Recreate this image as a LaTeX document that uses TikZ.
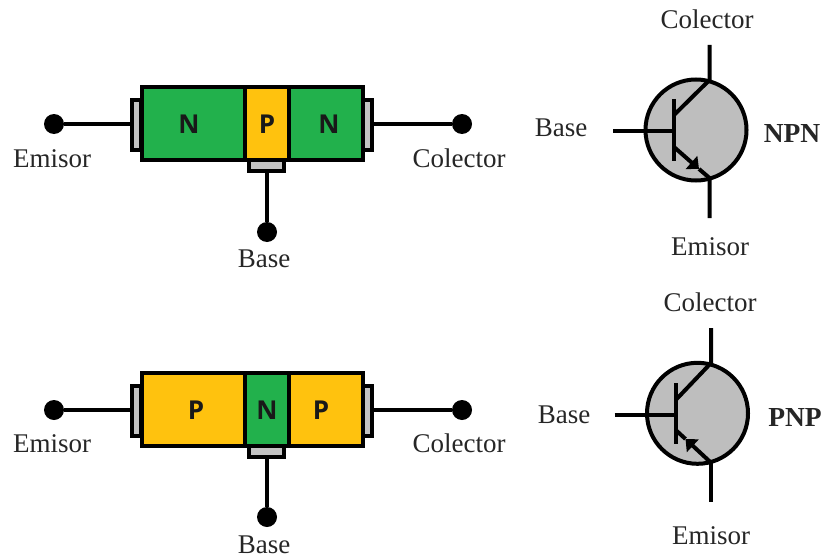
\documentclass[tikz,border=0pt]{standalone}
\usepackage{fontspec}
\setmainfont{Liberation Serif}
\newfontfamily\dopefont{Open Sans}
\usetikzlibrary{arrows.meta}
\definecolor{dopeN}{HTML}{22B14C}
\definecolor{dopeP}{HTML}{FFC20E}
\definecolor{metal}{HTML}{C3C3C3}
\definecolor{body}{HTML}{BEBEBE}
\tikzset{
  wire/.style={line width=4pt},
  region/.style={draw, line width=4pt, rectangle, inner sep=0pt, outer sep=0pt, minimum height=73pt},
  contact/.style={draw, line width=4pt, fill=metal, rectangle, inner sep=0pt, outer sep=0pt},
  terminal/.style={circle, fill=black, inner sep=0pt, minimum size=20pt},
  dope/.style={font=\dopefont\fontsize{26}{26}\selectfont\bfseries, text=black!90, inner sep=0pt},
  tag/.style={font=\fontsize{27}{27}\selectfont, text=black!85, inner sep=0pt},
  kind/.style={font=\fontsize{27.5}{27.5}\selectfont\bfseries, text=black!85, inner sep=0pt},
  envelope/.style={draw, line width=4pt, circle, fill=body, inner sep=0pt, outer sep=0pt, minimum size=101pt},
  headed/.style={wire, -{Triangle[length=10pt,width=17pt]}}
}
\begin{document}
\begin{tikzpicture}[x=1pt, y=-1pt]
  \useasboundingbox (0,0) rectangle (826,559);
  % NPN block
  \node [contact, minimum width=9pt, minimum height=50pt] (ce1) at (136.5,125) {};
  \node [contact, minimum width=9pt, minimum height=50pt] (cc1) at (367,125) {};
  \node [contact, minimum width=35pt, minimum height=13pt] (cb1) at (266.5,164.5) {};
  \node [region, fill=dopeN, minimum width=103pt] (re1) at (193,123.5) {};
  \node [region, fill=dopeN, minimum width=74pt] (rc1) at (325.5,123.5) {};
  \node [region, fill=dopeP, minimum width=44pt] (rb1) at (266.5,123.5) {};
  \node [dope] (le1) at (189,124) {N};
  \node [dope] (lb1) at (267,124) {P};
  \node [dope] (lc1) at (329,124) {N};
  \node [terminal] (te1) at (54,124) {};
  \node [terminal] (tc1) at (462,124) {};
  \node [terminal] (tb1) at (267,232) {};
  \node [tag] (ne1) at (52,159) {Emisor};
  \node [tag] (nc1) at (459,158) {Colector};
  \node [tag] (nb1) at (264,259) {Base};
  \path [wire]
  (te1) edge (ce1.west |- te1)
  (tc1) edge (cc1.east |- tc1)
  (tb1) edge (tb1 |- cb1.south);
  % PNP block
  \node [contact, minimum width=9pt, minimum height=50pt] (ce2) at (136.5,410.5) {};
  \node [contact, minimum width=9pt, minimum height=50pt] (cc2) at (367,410.5) {};
  \node [contact, minimum width=35pt, minimum height=13pt] (cb2) at (266.5,450) {};
  \node [region, fill=dopeP, minimum width=103pt] (re2) at (193,409) {};
  \node [region, fill=dopeP, minimum width=74pt] (rc2) at (325.5,409) {};
  \node [region, fill=dopeN, minimum width=44pt] (rb2) at (266.5,409) {};
  \node [dope] (le2) at (196,410) {P};
  \node [dope] (lb2) at (267,410) {N};
  \node [dope] (lc2) at (321,410) {P};
  \node [terminal] (te2) at (54,410) {};
  \node [terminal] (tc2) at (462,410) {};
  \node [terminal] (tb2) at (267,517) {};
  \node [tag] (ne2) at (52,444) {Emisor};
  \node [tag] (nc2) at (459,443) {Colector};
  \node [tag] (nb2) at (264,545) {Base};
  \path [wire]
  (te2) edge (ce2.west |- te2)
  (tc2) edge (cc2.east |- tc2)
  (tb2) edge (tb2 |- cb2.south);
  % NPN symbol
  \node [envelope] (env1) at (696,130) {};
  \coordinate (bl1) at (613,130.7);
  \coordinate (bt1) at (674,99);
  \coordinate (bm1) at (674,130.7);
  \coordinate (bd1) at (674,161);
  \coordinate (ci1) at (674,115);
  \coordinate (ck1) at (709.5,80);
  \coordinate (ct1) at (709.5,45);
  \coordinate (ei1) at (674,147);
  \coordinate (ea1) at (699,169);
  \coordinate (ek1) at (709.5,178);
  \coordinate (eb1) at (709.5,218);
  \draw [wire] (bl1) -- (bm1) (bt1) -- (bd1);
  \draw [wire, line join=round] (ci1) -- (ck1) -- (ct1);
  \draw [wire, line join=round] (ea1) -- (ek1) -- (eb1);
  \draw [headed] (ei1) -- (ea1);
  \node [tag] (nc3) at (707,19) {Colector};
  \node [tag] (nb3) at (561,128) {Base};
  \node [tag] (ne3) at (710,247) {Emisor};
  \node [kind] (kn) at (792,133) {NPN};
  % PNP symbol
  \node [envelope] (env2) at (697.5,413.3) {};
  \coordinate (bl2) at (614.7,414.7);
  \coordinate (bt2) at (675.7,383);
  \coordinate (bm2) at (675.7,414.7);
  \coordinate (bd2) at (675.7,444);
  \coordinate (ci2) at (675.7,400);
  \coordinate (ck2) at (711,363);
  \coordinate (ct2) at (711,328);
  \coordinate (ei2) at (675.7,430);
  \coordinate (ea2) at (685.5,439);
  \coordinate (ek2) at (711,462.7);
  \coordinate (eb2) at (711,501.7);
  \draw [wire] (bl2) -- (bm2) (bt2) -- (bd2);
  \draw [wire, line join=round] (ci2) -- (ck2) -- (ct2);
  \draw [wire] (ei2) -- (ea2);
  \draw [wire] (ek2) -- (eb2);
  \draw [headed] (ek2) -- (ea2);
  \node [tag] (nc4) at (710,302) {Colector};
  \node [tag] (nb4) at (564,415) {Base};
  \node [tag] (ne4) at (711,536) {Emisor};
  \node [kind] (kp) at (795,417) {PNP};
\end{tikzpicture}
\end{document}
